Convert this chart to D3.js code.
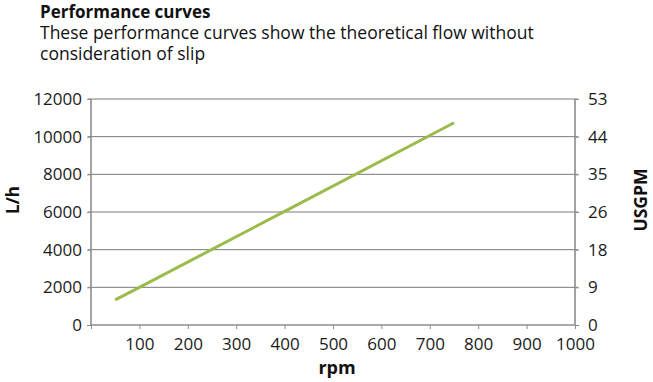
<!DOCTYPE html>
<html><head><meta charset="utf-8">
<script src="https://cdn.jsdelivr.net/npm/d3@7"></script>
<style>body{margin:0;background:#fff}svg{display:block}</style>
</head><body>
<svg id="c" width="653" height="382"></svg>
<script>
const rpm = [50, 100, 400, 700, 750];
const flowLh = [1330, 2000, 6030, 10060, 10740];
const xTicks = [100, 200, 300, 400, 500, 600, 700, 800, 900, 1000];
const yTicks = [0, 2000, 4000, 6000, 8000, 10000, 12000];
const yRightLabels = ["0", "9", "18", "26", "35", "44", "53"];

const svg = d3.select("#c");
const font = "'Open Sans', sans-serif";
const L = 91, R = 575, T = 99, B = 325;
const x = d3.scaleLinear().domain([0, 1000]).range([L, R]);
const y = d3.scaleLinear().domain([0, 12000]).range([B, T]);

svg.append("text").attr("x", 40).attr("y", 18).attr("font-family", font)
  .attr("font-weight", "bold").attr("font-size", 17).attr("fill", "#111").text("Performance curves");
svg.append("text").attr("x", 40).attr("y", 39).attr("font-family", font)
  .attr("font-size", 17.5).attr("fill", "#111").text("These performance curves show the theoretical flow without");
svg.append("text").attr("x", 40).attr("y", 60).attr("font-family", font)
  .attr("font-size", 17.5).attr("fill", "#111").text("consideration of slip");

svg.append("g").selectAll("line").data(yTicks.slice(1)).join("line")
  .attr("x1", L - 3).attr("x2", R + 3).attr("y1", d => y(d)).attr("y2", d => y(d))
  .attr("stroke", "#7a7a7a").attr("stroke-width", 1);

const la = svg.append("g").attr("transform", `translate(${L},0)`)
  .call(d3.axisLeft(y).tickValues(yTicks).tickSize(4).tickPadding(5).tickFormat(d3.format("d")));
const ra = svg.append("g").attr("transform", `translate(${R},0)`)
  .call(d3.axisRight(y).tickValues(yTicks).tickSize(4).tickPadding(9)
    .tickFormat((d, i) => yRightLabels[i]));
const ba = svg.append("g").attr("transform", `translate(0,${B})`)
  .call(d3.axisBottom(x).tickValues([0].concat(xTicks)).tickSize(4).tickPadding(9)
    .tickFormat(d => d === 0 ? "" : d3.format("d")(d)));

[la, ra, ba].forEach(g => {
  g.select(".domain").attr("stroke", "#8c8c8c").attr("stroke-width", 1.6);
  g.selectAll(".tick line").attr("stroke", "#8c8c8c");
  g.selectAll("text").attr("font-family", font).attr("font-size", 17).attr("fill", "#1a1a1a");
});
ba.select(".domain").attr("d", `M${L},0H${R}`);
la.select(".domain").attr("d", `M0,${B}V${T}`);
ra.select(".domain").attr("d", `M0,${B}V${T}`);

svg.append("path").datum(rpm.map((r, i) => [r, flowLh[i]]))
  .attr("d", d3.line().x(d => x(d[0])).y(d => y(d[1])))
  .attr("fill", "none").attr("stroke", "#9bbb4a").attr("stroke-width", 3);

svg.append("text").attr("transform", `translate(19,200) rotate(-90)`).attr("text-anchor", "middle")
  .attr("font-family", font).attr("font-weight", "bold").attr("font-size", 17).attr("fill", "#111").text("L/h");
svg.append("text").attr("transform", `translate(647,200) rotate(-90)`).attr("text-anchor", "middle")
  .attr("font-family", font).attr("font-weight", "bold").attr("font-size", 17.5).attr("fill", "#111").text("USGPM");
svg.append("text").attr("x", 337).attr("y", 374).attr("text-anchor", "middle")
  .attr("font-family", font).attr("font-weight", "bold").attr("font-size", 18).attr("fill", "#111").text("rpm");
</script>
</body></html>
